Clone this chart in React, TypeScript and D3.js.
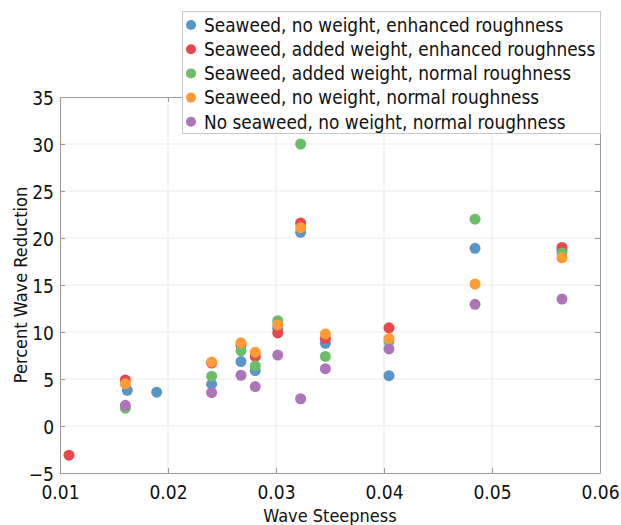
import * as d3 from "d3";
import React, { useEffect, useRef } from "react";

// wave steepness for each test column
const steepness = [0.01083, 0.01605, 0.01895, 0.02404, 0.02676, 0.02808, 0.03016, 0.03228, 0.03457, 0.04046, 0.04843, 0.05648];

const seriesNames = [
  "Seaweed, no weight, enhanced roughness",
  "Seaweed, added weight, enhanced roughness",
  "Seaweed, added weight, normal roughness",
  "Seaweed, no weight, normal roughness",
  "No seaweed, no weight, normal roughness",
];
const seriesColors = ["#5a95c8", "#e8474b", "#6cbd68", "#ff9a35", "#ad74ba"];

// percent wave reduction, null = not tested
const blueVals = [null, 3.8, 3.6, 4.45, 6.85, 5.9, 10.4, 20.6, 8.8, 5.35, 18.9, 18.7];
const redVals = [-3.1, 4.9, null, 6.7, 8.6, 7.4, 9.9, 21.6, 9.3, 10.45, null, 19.0];
const greenVals = [null, 1.9, null, 5.3, 8.0, 6.4, 11.2, 30.0, 7.4, 9.0, 22.0, 18.4];
const orangeVals = [null, 4.5, null, 6.8, 8.85, 7.85, 10.75, 21.1, 9.8, 9.3, 15.1, 17.9];
const purpleVals = [null, 2.2, null, 3.55, 5.4, 4.2, 7.55, 2.9, 6.1, 8.2, 12.95, 13.5];
// the blue 0.01623 point sits slightly right of its column
const blueSteepness = [null, 0.01623, 0.01895, 0.02404, 0.02676, 0.02808, 0.03016, 0.03228, 0.03457, 0.04046, 0.04843, 0.05648];

const xTicks = [0.01, 0.02, 0.03, 0.04, 0.05, 0.06];
const yTicks = [-5, 0, 5, 10, 15, 20, 25, 30, 35];

const font = "'DejaVu Sans Condensed', 'DejaVu Sans', sans-serif";

const ScatterChart = () => {
  const svgRef = useRef<SVGSVGElement>(null);

  useEffect(() => {
    const w = 621;
    const h = 525;
    const left = 60, right = 600, top = 97, bottom = 473;

    const x = d3.scaleLinear().domain([0.01, 0.06]).range([left, right]);
    const y = d3.scaleLinear().domain([-5, 35]).range([bottom, top]);

    const svg = d3.select(svgRef.current).attr("width", w).attr("height", h);
    svg.selectAll("*").remove();

    // grid
    const grid = svg.append("g");
    grid.selectAll("line.gx").data(xTicks.slice(1, -1)).enter().append("line")
      .attr("x1", d => x(d)).attr("x2", d => x(d))
      .attr("y1", top).attr("y2", bottom)
      .attr("stroke", "#ebebeb").attr("stroke-width", 1);
    grid.selectAll("line.gy").data(yTicks.slice(1, -1)).enter().append("line")
      .attr("x1", left).attr("x2", right)
      .attr("y1", d => y(d)).attr("y2", d => y(d))
      .attr("stroke", "#ebebeb").attr("stroke-width", 1);

    // axes (ticks pointing inward)
    const xAxis = d3.axisBottom(x).tickValues(xTicks).tickSizeInner(-5).tickSizeOuter(0).tickPadding(13).tickFormat(d3.format(".2f"));
    const yAxis = d3.axisLeft(y).tickValues(yTicks).tickSizeInner(-5).tickSizeOuter(0).tickPadding(6);
    const xTop = d3.axisTop(x).tickValues(xTicks).tickSizeInner(-5).tickSizeOuter(0).tickFormat(() => "");
    const yRight = d3.axisRight(y).tickValues(yTicks).tickSizeInner(-5).tickSizeOuter(0).tickFormat(() => "");

    const gx = svg.append("g").attr("transform", `translate(0,${bottom})`).call(xAxis);
    const gy = svg.append("g").attr("transform", `translate(${left},0)`).call(yAxis);
    const gxt = svg.append("g").attr("transform", `translate(0,${top})`).call(xTop);
    const gyr = svg.append("g").attr("transform", `translate(${right},0)`).call(yRight);
    [gx, gy, gxt, gyr].forEach(g => {
      g.select(".domain").attr("stroke", "#9a9a9a");
      g.selectAll(".tick line").attr("stroke", "#9a9a9a");
      g.selectAll("text").attr("font-family", font).attr("font-size", 19).attr("fill", "#111");
    });
    gy.selectAll("text").attr("dy", "0.38em");

    // points
    const allVals = [blueVals, redVals, greenVals, orangeVals, purpleVals];
    allVals.forEach((vals, i) => {
      const pts = vals
        .map((v, j) => ({ s: i === 0 ? blueSteepness[j] : steepness[j], v }))
        .filter(p => p.v !== null && p.s !== null) as { s: number; v: number }[];
      svg.append("g").selectAll("circle").data(pts).enter().append("circle")
        .attr("cx", d => x(d.s))
        .attr("cy", d => y(d.v))
        .attr("r", 5.5)
        .attr("fill", seriesColors[i]);
    });

    // axis labels
    svg.append("text")
      .attr("x", (left + right) / 2).attr("y", 522)
      .attr("text-anchor", "middle")
      .attr("font-family", font).attr("font-size", 18).attr("fill", "#111")
      .text("Wave Steepness");
    svg.append("text")
      .attr("transform", `translate(27,${(top + bottom) / 2}) rotate(-90)`)
      .attr("text-anchor", "middle")
      .attr("font-family", font).attr("font-size", 18).attr("fill", "#111")
      .text("Percent Wave Reduction");

    // legend
    const lg = svg.append("g");
    lg.append("rect")
      .attr("x", 182.5).attr("y", 11.5).attr("width", 418).attr("height", 122)
      .attr("fill", "white").attr("stroke", "#c8c8c8");
    seriesNames.forEach((name, i) => {
      const cy = 25 + i * 24.2;
      lg.append("circle").attr("cx", 191).attr("cy", cy).attr("r", 5).attr("fill", seriesColors[i]);
      lg.append("text")
        .attr("x", 204).attr("y", cy + 6.7)
        .attr("font-family", font).attr("font-size", 18.85).attr("fill", "#111")
        .text(name);
    });
  }, []);

  return <svg ref={svgRef} style={{ display: "block", position: "absolute", left: 0, top: 0 }} />;
};

export default function App() {
  return <ScatterChart />;
}
